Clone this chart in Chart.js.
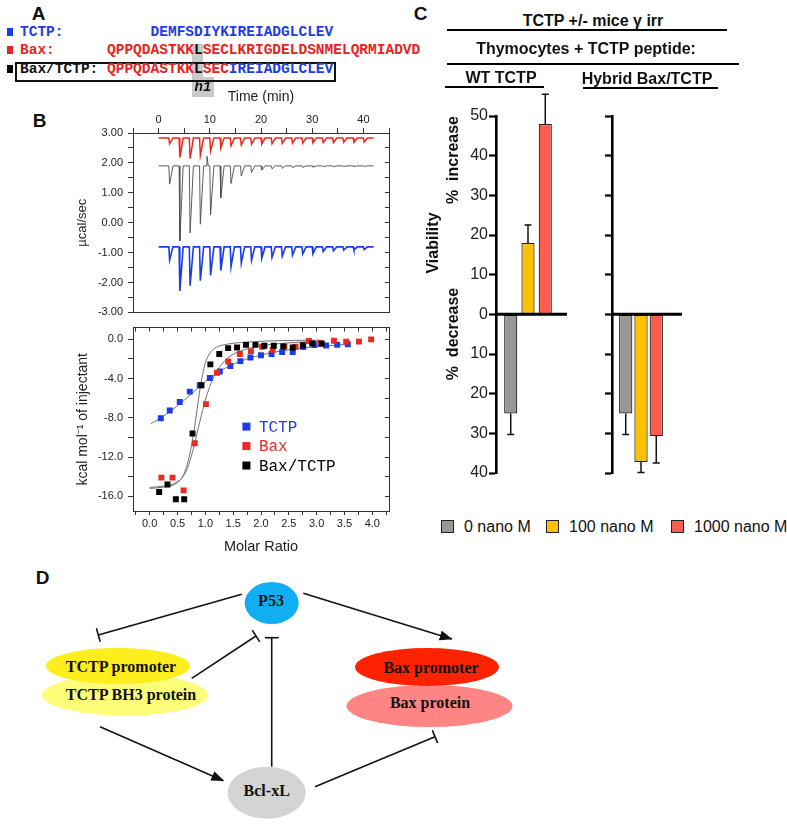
<!DOCTYPE html>
<html>
<head>
<meta charset="utf-8">
<script src="https://cdn.jsdelivr.net/npm/chart.js@4.4.1/dist/chart.umd.min.js"></script>
<style>
  body { margin: 0; background: #fff; }
  #page { position: relative; width: 787px; height: 824px; overflow: hidden; font-family: "Liberation Sans", Arial, sans-serif; color: #111; }
  canvas { position: absolute; }
  .t { position: absolute; line-height: 1; white-space: pre; }
  .mono { font-family: "Liberation Mono", "Courier New", monospace; font-weight: bold; font-size: 14.5px; }
  .rule { position: absolute; height: 2px; background: #000; }
  .sq { position: absolute; }
</style>
</head>
<body>
<div id="page">
  <!-- panel A -->
  <div class="sq" style="left:7px;top:28px;width:6px;height:8px;background:#1e3ce6"></div>
  <div class="sq" style="left:7px;top:46px;width:6px;height:8px;background:#e8231f"></div>
  <div class="sq" style="left:7px;top:65px;width:6px;height:8px;background:#000"></div>
  <div class="sq" style="left:192px;top:44px;width:11px;height:34px;background:#c9c9c9"></div>
  <div class="sq" style="left:192px;top:77px;width:22px;height:20px;background:#c9c9c9"></div>
  <div class="sq" style="left:15px;top:62px;width:317px;height:16px;border:2px solid #111"></div>
  <div id="seqs"></div>

  <canvas id="raw" width="330" height="239" style="left:75px;top:85px"></canvas>
  <canvas id="iso" width="330" height="244" style="left:75px;top:316px"></canvas>
  <canvas id="wt" width="130" height="410" style="left:440px;top:80px"></canvas>
  <canvas id="hy" width="94" height="410" style="left:590px;top:80px"></canvas>

  <div class="rule" style="left:447px;top:29px;width:280px"></div>
  <div class="rule" style="left:447px;top:63px;width:292px"></div>
  <div class="rule" style="left:445px;top:86px;width:99px"></div>
  <div class="rule" style="left:583px;top:87px;width:135px"></div>
  <div id="doseLegend"></div>

  <!-- panel D -->
  <svg style="position:absolute;left:0;top:560px" width="787" height="264" viewBox="0 560 787 264">
    <defs>
      <marker id="arrow" markerUnits="userSpaceOnUse" markerWidth="13" markerHeight="11" refX="12" refY="5" orient="auto">
        <path d="M0,0 L13,5 L0,10 z" fill="#111"/>
      </marker>
      <marker id="tee" markerUnits="userSpaceOnUse" markerWidth="4" markerHeight="14" refX="2" refY="7" orient="auto">
        <path d="M2,0 V14" stroke="#111" stroke-width="1.6"/>
      </marker>
    </defs>
    <ellipse cx="125" cy="695" rx="83" ry="20.5" fill="#fdfd7a"/>
    <ellipse cx="118" cy="666" rx="72" ry="18" fill="#ffee1e"/>
    <ellipse cx="429.5" cy="706" rx="83" ry="21" fill="#ff8484"/>
    <ellipse cx="427" cy="667" rx="72" ry="19" fill="#ff2200"/>
    <ellipse cx="271.7" cy="603" rx="27" ry="21" fill="#12aef4"/>
    <ellipse cx="266.7" cy="792.7" rx="39" ry="26" fill="#d4d4d4"/>
    <g stroke="#111" stroke-width="1.6" fill="none">
      <line x1="241.7" y1="594.3" x2="98.3" y2="635" marker-end="url(#tee)"/>
      <line x1="303.3" y1="593.3" x2="451.7" y2="639" marker-end="url(#arrow)"/>
      <line x1="191.7" y1="678.3" x2="256" y2="636" marker-end="url(#tee)"/>
      <line x1="271.7" y1="766.7" x2="271.7" y2="637.7" marker-end="url(#tee)"/>
      <line x1="100" y1="726.7" x2="223.3" y2="780.7" marker-end="url(#arrow)"/>
      <line x1="315" y1="786.7" x2="435" y2="736.7" marker-end="url(#tee)"/>
    </g>
    <g font-family="Liberation Serif, Times New Roman, serif" font-weight="bold" font-size="16" fill="#111" text-anchor="middle" dominant-baseline="central">
      <text x="121" y="666">TCTP promoter</text>
      <text x="131" y="694">TCTP BH3 protein</text>
      <text x="431" y="667.5">Bax promoter</text>
      <text x="430" y="702.5">Bax protein</text>
      <text x="271" y="600">P53</text>
      <text x="266.7" y="790">Bcl-xL</text>
    </g>
  </svg>
</div>

<script>
// ---- panel A sequences
const seqRows = [
  { y: 32.2, parts: [["TCTP:          DEMFSDIYKIREIADGLCLEV", "#1e3ce6"]] },
  { y: 49.7, parts: [["Bax:      QPPQDASTKK", "#e8231f"], ["L", "#111"], ["SECLKRIGDELDSNMELQRMIADVD", "#e8231f"]] },
  { y: 68.7, parts: [["Bax/TCTP: ", "#111"], ["QPPQDASTKK", "#e8231f"], ["L", "#111"], ["SEC", "#e8231f"], ["IREIADGLCLEV", "#1e3ce6"]] }
];

// ---- panel B, raw ITC thermogram (µcal/sec)
const injTimes = [2, 4, 6, 8, 10, 12, 14, 16, 18, 20, 22, 24, 26, 28, 30, 32, 34, 36, 38, 40];
const traceEnd = 42;
const baxBase = 2.83;
const baxPeaks = [2.64, 2.18, 2.14, 2.25, 2.40, 2.50, 2.57, 2.60, 2.62, 2.63, 2.64, 2.65, 2.66, 2.66, 2.67, 2.68, 2.68, 2.69, 2.69, 2.70];
const hybridBase = 1.90;
const hybridPeaks = [1.29, -0.61, -0.34, -0.05, 0.27, 0.83, 1.31, 1.56, 1.68, 1.76, 1.80, 1.82, 1.84, 1.85, 1.86, 1.87, 1.87, 1.88, 1.88, 1.88];
const hybridBlipTimes = [9.3];
const hybridBlipPeaks = [2.22];
const tctpBase = -0.81;
const tctpPeaks = [-1.25, -2.28, -2.11, -1.94, -1.76, -1.60, -1.47, -1.35, -1.26, -1.19, -1.16, -1.12, -1.09, -1.05, -1.04, -0.96, -0.94, -0.92, -0.91, -0.90];

// ---- panel B, integrated heats (kcal/mol of injectant) vs molar ratio
const tctpRatio = [0.20, 0.36, 0.54, 0.72, 0.90, 1.08, 1.26, 1.45, 1.63, 1.81, 2.00, 2.19, 2.38, 2.57, 2.76, 2.96, 3.17, 3.37, 3.56];
const tctpHeat = [-8.05, -7.25, -6.39, -5.33, -4.67, -3.94, -3.28, -2.72, -2.22, -1.85, -1.62, -1.50, -1.30, -1.30, -0.78, -0.58, -0.63, -0.56, -0.50];
const baxRatio = [0.21, 0.41, 0.61, 0.81, 1.01, 1.21, 1.41, 1.62, 1.82, 2.02, 2.21, 2.42, 2.62, 2.86, 3.07, 3.31, 3.53, 3.76, 3.98];
const baxHeat = [-14.1, -14.1, -15.4, -10.6, -6.6, -3.4, -2.25, -1.5, -1.2, -0.76, -1.05, -0.72, -0.76, -0.17, -0.40, -0.14, -0.23, -0.23, 0.0];
const hybridRatio = [0.17, 0.32, 0.47, 0.62, 0.77, 0.93, 1.09, 1.25, 1.41, 1.57, 1.73, 1.90, 2.06, 2.23, 2.40, 2.57, 2.75, 2.92, 3.09];
const hybridHeat = [-15.56, -14.8, -16.3, -16.3, -9.6, -4.67, -2.55, -1.49, -0.89, -0.83, -0.56, -0.56, -0.66, -0.66, -0.73, -0.83, -0.60, -0.43, -0.43];
// fitted curves
const tctpFitRatio = [0.02, 0.2, 0.4, 0.6, 0.8, 1.0, 1.2, 1.4, 1.6, 1.8, 2.0, 2.2, 2.4, 2.6, 2.8, 3.0, 3.2, 3.4, 3.55];
const tctpFitHeat = [-8.6, -8.0, -7.2, -6.3, -5.3, -4.3, -3.45, -2.8, -2.3, -1.9, -1.6, -1.35, -1.15, -1.0, -0.85, -0.75, -0.65, -0.57, -0.5];
const baxFitRatio = [0.0, 0.2, 0.4, 0.5, 0.6, 0.7, 0.8, 0.9, 1.0, 1.1, 1.2, 1.3, 1.4, 1.6, 1.8, 2.0, 2.4, 2.8, 3.1];
const baxFitHeat = [-15.1, -15.0, -14.8, -14.5, -14.0, -12.8, -10.8, -8.4, -6.2, -4.5, -3.3, -2.5, -1.9, -1.25, -0.9, -0.65, -0.4, -0.25, -0.2];
const hybridFitRatio = [0.0, 0.2, 0.4, 0.5, 0.6, 0.7, 0.8, 0.85, 0.9, 0.95, 1.0, 1.05, 1.1, 1.2, 1.3, 1.5, 1.8, 2.2, 2.6, 3.05];
const hybridFitHeat = [-15.2, -15.1, -14.9, -14.6, -13.9, -12.2, -9.2, -7.2, -5.2, -3.6, -2.4, -1.7, -1.25, -0.8, -0.6, -0.4, -0.25, -0.15, -0.1, -0.08];

// ---- panel C, thymocyte viability (% change, + increase / - decrease)
const doses = ["0 nano M", "100 nano M", "1000 nano M"];
const doseColors = ["#9b9894", "#ffc000", "#ff5b4f"];
const wtViability = [-25, 18, 48];
const wtError = [5.3, 4.5, 7.5];
const hybridViability = [-25, -37.2, -30.7];
const hybridError = [5.3, 2.7, 6.8];
const viabilityTicks = [-40, -30, -20, -10, 0, 10, 20, 30, 40, 50];

const BLUE = "#1e3ce6", RED = "#ea2a1e";
const SANS = "'Liberation Sans', Arial, sans-serif";
Chart.defaults.font.family = SANS;
Chart.defaults.color = "#222";
Chart.defaults.animation = false;

const page = document.getElementById("page");
function addText(txt, cx, cy, css, anchor) {
  const d = document.createElement("div");
  d.className = "t";
  d.textContent = txt;
  d.style.cssText += css;
  d.style.left = cx + "px";
  d.style.top = cy + "px";
  d.style.transform = anchor || "translate(-50%,-50%)";
  page.appendChild(d);
  return d;
}

// panel A text
const seqBox = document.getElementById("seqs");
seqRows.forEach(row => {
  const d = document.createElement("div");
  d.className = "t mono";
  d.style.left = "20px";
  d.style.top = row.y + "px";
  d.style.transform = "translateY(-50%)";
  row.parts.forEach(([s, c]) => {
    const sp = document.createElement("span");
    sp.textContent = s;
    sp.style.color = c;
    d.appendChild(sp);
  });
  seqBox.appendChild(d);
});
addText("h1", 203, 86.5, "font-family:'Liberation Mono',monospace;font-weight:bold;font-style:italic;font-size:14px;");
addText("A", 38.5, 12.5, "font-weight:bold;font-size:19px;");
addText("B", 39.5, 119.5, "font-weight:bold;font-size:19px;");
addText("C", 420.5, 12.5, "font-weight:bold;font-size:19px;");
addText("D", 42.5, 576.5, "font-weight:bold;font-size:19px;");

// panel C text
const boldC = "font-weight:bold;font-size:16px;";
addText("TCTP +/- mice \u03b3 irr", 593, 21, boldC);
addText("Thymocytes + TCTP peptide:", 586, 49, boldC);
addText("WT TCTP", 501, 78, boldC);
addText("Hybrid Bax/TCTP", 647, 79, boldC);
addText("Viability", 433, 243, boldC, "translate(-50%,-50%) rotate(-90deg)");
addText("%  increase", 453, 160, boldC, "translate(-50%,-50%) rotate(-90deg)");
addText("%  decrease", 453, 334, boldC, "translate(-50%,-50%) rotate(-90deg)");

// dose legend
const legendX = [441, 546, 671];
doses.forEach((d, i) => {
  const b = document.createElement("div");
  b.className = "sq";
  b.style.cssText += `left:${legendX[i]}px;top:520px;width:11px;height:11px;border:1.3px solid #222;background:${doseColors[i]}`;
  page.appendChild(b);
  addText(d, legendX[i] + 23, 527, "font-size:16px;", "translate(0,-50%)");
});

// ---- helpers
function pairs(xs, ys) { return xs.map((x, i) => ({ x, y: ys[i] })); }
function spikeTrace(base, times, peaks, blipTimes, blipPeaks) {
  const ev = times.map((t, i) => [t, peaks[i], 0.8]);
  (blipTimes || []).forEach((t, i) => ev.push([t, blipPeaks[i], 0.4]));
  ev.sort((a, b) => a[0] - b[0]);
  const pts = [{ x: 0, y: base }];
  ev.forEach(([t, p, w]) => {
    pts.push({ x: t, y: base }, { x: t + 0.15, y: p }, { x: t + w, y: base });
  });
  pts.push({ x: traceEnd, y: base });
  return pts;
}
const tickFont = { size: 11 };
const frame = { color: "#333", width: 1 };

// ---- raw thermogram
new Chart(document.getElementById("raw"), {
  type: "scatter",
  data: {
    datasets: [
      { label: "Bax", data: spikeTrace(baxBase, injTimes, baxPeaks), borderColor: RED, borderWidth: 1.5 },
      { label: "Bax/TCTP", data: spikeTrace(hybridBase, injTimes, hybridPeaks, hybridBlipTimes, hybridBlipPeaks), borderColor: "#4a4a4a", borderWidth: 0.9 },
      { label: "TCTP", data: spikeTrace(tctpBase, injTimes, tctpPeaks), borderColor: BLUE, borderWidth: 1.6 }
    ].map(d => Object.assign(d, { showLine: true, pointRadius: 0, tension: 0 }))
  },
  options: {
    responsive: false,
    layout: { padding: 0 },
    plugins: { legend: { display: false }, tooltip: { enabled: false } },
    scales: {
      x: {
        type: "linear", position: "top", min: -5, max: 45,
        ticks: { stepSize: 5, autoSkip: false, maxRotation: 0, padding: 1, includeBounds: false, font: tickFont,
          callback: v => (v >= 0 && v <= 40 && v % 10 === 0) ? String(v) : "" },
        grid: { drawOnChartArea: false, tickLength: 5, tickColor: "#333" },
        border: frame,
        title: { display: true, text: "Time (min)", font: { size: 14 }, color: "#222", padding: { top: 4, bottom: 0 } },
        afterFit: s => { s.height = 48; }
      },
      xb: {
        type: "linear", position: "bottom", min: -5, max: 45,
        ticks: { display: false },
        grid: { drawOnChartArea: false, drawTicks: false },
        border: frame,
        afterFit: s => { s.height = 2; }
      },
      y: {
        position: "left", min: -3, max: 3,
        ticks: { stepSize: 0.5, autoSkip: false, padding: 5, includeBounds: false, font: tickFont,
          callback: v => Number.isInteger(v) ? v.toFixed(2) : "" },
        grid: { drawOnChartArea: false, tickLength: 5, tickColor: "#333" },
        border: frame,
        title: { display: true, text: "\u00b5cal/sec", font: { size: 13 }, color: "#222", padding: 0 },
        afterFit: s => { s.width = 58; }
      },
      yr: {
        position: "right", min: -3, max: 3,
        ticks: { display: false, stepSize: 0.5, includeBounds: false },
        grid: { drawOnChartArea: false, tickLength: -4, tickColor: "#333" },
        border: frame,
        afterFit: s => { s.width = 16; }
      }
    }
  }
});

// ---- isotherm
const isoLegend = {
  id: "isoLegend",
  afterDatasetsDraw(chart) {
    const { ctx, chartArea: a } = chart;
    ctx.save();
    ctx.font = "16px 'Liberation Mono', monospace";
    ctx.textBaseline = "middle";
    chart.data.datasets.filter(d => d.legendRow !== undefined).forEach(d => {
      const x = a.left + a.width * 0.443;
      const y = a.top + a.height * (0.54 + 0.106 * d.legendRow);
      ctx.fillStyle = d.pointBackgroundColor;
      ctx.fillRect(x - 4, y - 4, 8, 8);
      ctx.fillText(d.label, x + 12.5, y + 1);
    });
    ctx.restore();
  }
};
const pointSet = (label, data, color, row, order) => ({
  label, data, order, legendRow: row, showLine: false,
  pointStyle: "rect", pointRadius: 4.2, pointBorderWidth: 0,
  pointBackgroundColor: color, pointBorderColor: color
});
const fitSet = (data, order) => ({
  label: "fit", data, order, showLine: true, pointRadius: 0,
  borderColor: "#707070", borderWidth: 1, cubicInterpolationMode: "monotone"
});
new Chart(document.getElementById("iso"), {
  type: "scatter",
  data: {
    datasets: [
      pointSet("Bax/TCTP", pairs(hybridRatio, hybridHeat), "#000", 2, 1),
      pointSet("Bax", pairs(baxRatio, baxHeat), RED, 1, 2),
      pointSet("TCTP", pairs(tctpRatio, tctpHeat), BLUE, 0, 3),
      fitSet(pairs(hybridFitRatio, hybridFitHeat), 4),
      fitSet(pairs(baxFitRatio, baxFitHeat), 5),
      fitSet(pairs(tctpFitRatio, tctpFitHeat), 6)
    ]
  },
  options: {
    responsive: false,
    layout: { padding: 0 },
    plugins: { legend: { display: false }, tooltip: { enabled: false } },
    scales: {
      x: {
        type: "linear", position: "bottom", min: -0.3, max: 4.3,
        ticks: { stepSize: 0.25, autoSkip: false, maxRotation: 0, padding: 2, includeBounds: false, font: tickFont,
          callback: v => (v >= 0 && v <= 4 && Math.abs(v * 2 - Math.round(v * 2)) < 1e-6) ? v.toFixed(1) : "" },
        grid: { drawOnChartArea: false, tickLength: 4, tickColor: "#333" },
        border: frame,
        title: { display: true, text: "Molar Ratio", font: { size: 14.5 }, color: "#222", padding: { top: 0, bottom: 4 } },
        afterFit: s => { s.height = 49; }
      },
      xt: {
        type: "linear", position: "top", min: -0.3, max: 4.3,
        ticks: { display: false, stepSize: 0.25, includeBounds: false },
        grid: { drawOnChartArea: false, tickLength: -4, tickColor: "#333" },
        border: frame,
        afterFit: s => { s.height = 6; }
      },
      y: {
        position: "left", min: -17.5, max: 1.2,
        ticks: { stepSize: 2, autoSkip: false, padding: 5, includeBounds: false, font: tickFont,
          callback: v => (Math.round(v) % 4 === 0) ? (v === 0 ? "0.0" : v.toFixed(1)) : "" },
        grid: { drawOnChartArea: false, tickLength: 5, tickColor: "#333" },
        border: frame,
        title: { display: true, text: "kcal mol\u207b\u00b9 of injectant", font: { size: 14 }, color: "#222", padding: 0 },
        afterFit: s => { s.width = 58; }
      },
      yr: {
        position: "right", min: -17.5, max: 1.2,
        ticks: { display: false, stepSize: 2, includeBounds: false },
        grid: { drawOnChartArea: false, tickLength: -4, tickColor: "#333" },
        border: frame,
        afterFit: s => { s.width = 16; }
      }
    }
  },
  plugins: [isoLegend]
});

// ---- viability bar charts
const barExtras = {
  id: "barExtras",
  afterDatasetsDraw(chart, args, opts) {
    const { ctx, chartArea: a, scales: { y } } = chart;
    ctx.save();
    ctx.strokeStyle = "#111";
    ctx.lineWidth = 1.5;
    chart.data.datasets.forEach((ds, i) => {
      chart.getDatasetMeta(i).data.forEach((bar, j) => {
        const v = ds.data[j];
        const yEnd = y.getPixelForValue(v + Math.sign(v) * ds.errorBar[j]);
        ctx.beginPath();
        ctx.moveTo(bar.x, bar.y);
        ctx.lineTo(bar.x, yEnd);
        ctx.moveTo(bar.x - 3.5, yEnd);
        ctx.lineTo(bar.x + 3.5, yEnd);
        ctx.stroke();
      });
    });
    const y0 = y.getPixelForValue(0);
    ctx.strokeStyle = "#000";
    ctx.lineWidth = 3;
    ctx.beginPath();
    ctx.moveTo(a.left - 1, y0);
    ctx.lineTo(a.right + opts.extend, y0);
    ctx.stroke();
    ctx.restore();
  }
};

function viabilityChart(id, values, errors, cfg) {
  return new Chart(document.getElementById(id), {
    type: "bar",
    data: {
      labels: [""],
      datasets: doses.map((d, i) => ({
        label: d, data: [values[i]], errorBar: [errors[i]],
        backgroundColor: doseColors[i], borderColor: "#222", borderWidth: 1.2, borderSkipped: false,
        categoryPercentage: cfg.cp, barPercentage: cfg.bp
      }))
    },
    options: {
      responsive: false,
      layout: { padding: { top: 36, bottom: 17, left: 0, right: cfg.padRight } },
      plugins: { legend: { display: false }, tooltip: { enabled: false }, barExtras: { extend: cfg.extend } },
      scales: {
        x: { display: false },
        y: {
          min: -40, max: 50,
          afterBuildTicks: s => { s.ticks = viabilityTicks.map(v => ({ value: v })); },
          ticks: { display: cfg.labels, padding: 1, font: { size: 16 }, color: "#222", callback: v => String(Math.abs(v)) },
          grid: { drawOnChartArea: false, tickLength: 7, tickWidth: 2.2, tickColor: "#000" },
          border: { color: "#000", width: 2.6 },
          afterFit: s => { s.width = cfg.axisWidth; }
        }
      }
    },
    plugins: [barExtras]
  });
}
viabilityChart("wt", wtViability, wtError, { cp: 0.81, bp: 0.76, padRight: 10, extend: 7, axisWidth: 56, labels: true });
viabilityChart("hy", hybridViability, hybridError, { cp: 0.79, bp: 0.87, padRight: 14, extend: 12, axisWidth: 22, labels: false });
</script>
</body>
</html>
